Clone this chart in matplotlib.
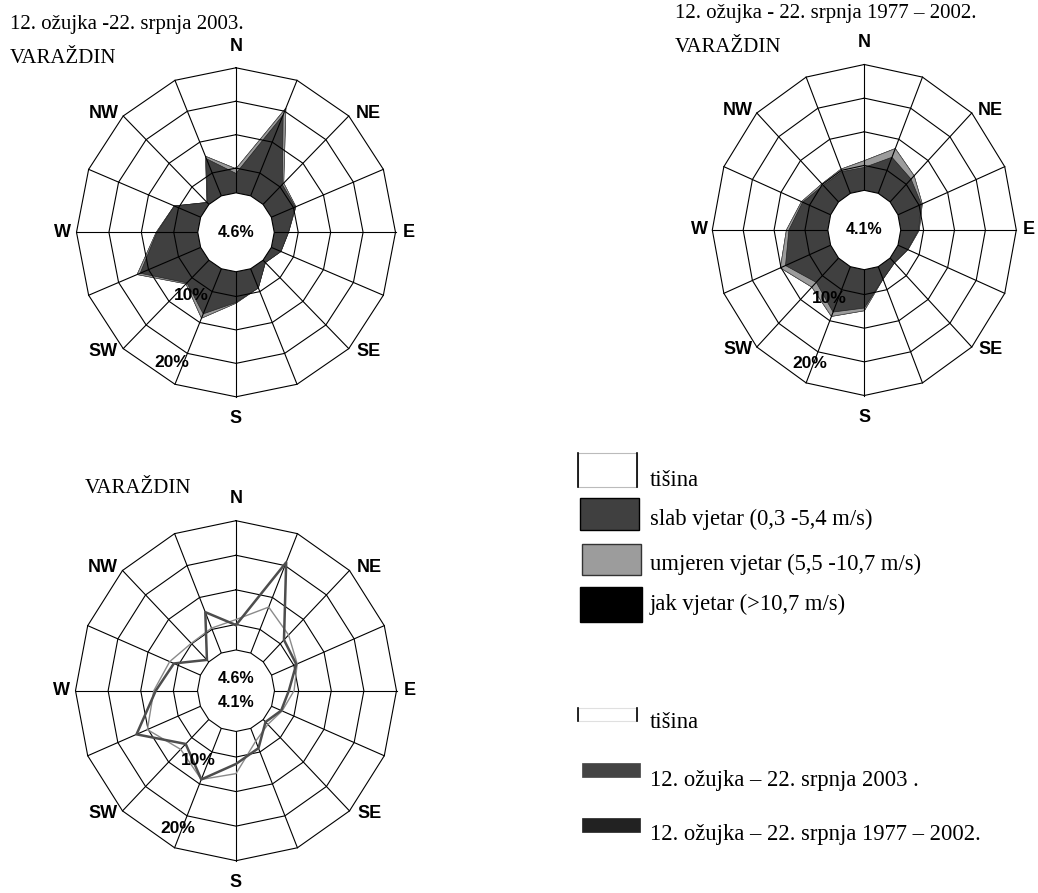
import numpy as np
import matplotlib
matplotlib.use('Agg')
import matplotlib.pyplot as plt
from matplotlib.patches import Rectangle

plt.rcParams['font.family'] = ['Liberation Sans', 'DejaVu Sans']

# smjerovi vjetra (16), oznake samo za glavne
smjerovi = ['N', 'NNE', 'NE', 'ENE', 'E', 'ESE', 'SE', 'SSE',
            'S', 'SSW', 'SW', 'WSW', 'W', 'WNW', 'NW', 'NNW']
oznake = ['N', 'NE', 'E', 'SE', 'S', 'SW', 'W', 'NW']

# 12. ožujka - 22. srpnja 2003. (%)
slab_2003 = [4.2, 14.4, 5.5, 5.3, 3.5, 2.9, 1.8, 4.4, 5.9, 8.6, 6.1, 11.4, 7.6, 5.7, 1.7, 7.3]
umjeren_2003 = [0.7, 1.1, 0.3, 0.1, 0.0, 0.0, 0.0, 0.0, 0.1, 0.7, 0.2, 0.5, 0.1, 0.0, 0.0, 0.4]
jak_2003 = [0.0] * 16
tisina_2003 = 4.6

# 12. ožujka - 22. srpnja 1977 - 2002. (%)
slab_7702 = [4.7, 7.1, 6.1, 5.4, 4.2, 3.0, 2.3, 3.3, 7.0, 8.6, 6.4, 9.2, 7.6, 6.2, 4.8, 4.8]
umjeren_7702 = [1.0, 1.4, 0.7, 0.15, 0.1, 0.05, 0.0, 0.0, 0.4, 0.7, 1.0, 0.9, 0.4, 0.2, 0.3, 0.4]
jak_7702 = [0.0] * 16
tisina_7702 = 4.1

prstenovi = [5, 10, 15, 20]

W, H = 1038, 893
R_MIN = -4.6   # pomak ishodista (krug tisine u sredini)
R_RUPA = 1.3

fig = plt.figure(figsize=(W / 100, H / 100), dpi=100)

# pozadinska os u pikselima za tekst i legendu
bg = fig.add_axes([0, 0, 1, 1])
bg.set_xlim(0, W)
bg.set_ylim(H, 0)
bg.axis('off')

theta = np.radians(np.arange(16) * 22.5)
theta_z = np.append(theta, theta[0])


def zatvori(v):
    v = np.asarray(v, dtype=float)
    return np.append(v, v[0])


def ruza(cx, cy, rx, ry, kut10, kut20):
    ax = fig.add_axes([(cx - rx) / W, (H - cy - ry) / H, 2 * rx / W, 2 * ry / H],
                      projection='polar')
    ax.set_theta_zero_location('N')
    ax.set_theta_direction(-1)
    ax.set_ylim(0, 20)
    ax.set_rorigin(R_MIN)
    ax.set_aspect('auto')
    ax.axis('off')

    # mreza: 16-kutni prstenovi i zrake
    for p in prstenovi:
        ax.plot(theta_z, [p] * 17, color='black', lw=0.8, zorder=2, clip_on=False)
    for t in theta:
        ax.plot([t, t], [R_RUPA, 20], color='black', lw=0.8, zorder=2, clip_on=False)
    ax.fill(theta_z, [R_RUPA] * 17, facecolor='white', edgecolor='black', lw=0.8,
            zorder=3, clip_on=False)

    for i, lab in enumerate(oznake):
        kut = i * 45
        if lab in ('N', 'S'):
            r = 23.2
        elif lab in ('E', 'W'):
            r = 22.1
        else:
            # dijagonale malo prema E/W strani
            r = 22.5
            kut += 4 if lab in ('NE', 'SW') else -4
        ax.text(np.radians(kut), r, lab, ha='center', va='center',
                fontsize=13, fontweight='bold', zorder=5)
    ax.text(np.radians(kut10), 7.1, '10%', ha='center', va='center',
            fontsize=12.5, fontweight='bold', zorder=5)
    ax.text(np.radians(kut20), 17.2, '20%', ha='center', va='center',
            fontsize=12.5, fontweight='bold', zorder=5)
    return ax


def popuni(ax, slab, umjeren, jak):
    s = np.asarray(slab)
    u = s + np.asarray(umjeren)
    j = u + np.asarray(jak)
    ax.fill(theta_z, zatvori(j), facecolor='black', edgecolor='black', lw=0.5,
            zorder=1, clip_on=False)
    ax.fill(theta_z, zatvori(u), facecolor='#9c9c9c', edgecolor='#555555', lw=0.5,
            zorder=1, clip_on=False)
    ax.fill(theta_z, zatvori(s), facecolor='#404040', edgecolor='#222222', lw=0.5,
            zorder=1, clip_on=False)


# 1) 2003.
ax1 = ruza(236, 232.3, 159.5, 164.5, 216, 207)
popuni(ax1, slab_2003, umjeren_2003, jak_2003)
ax1.text(0.5, 0.5, f'{tisina_2003}%', transform=ax1.transAxes, ha='center', va='center',
         fontsize=11.5, fontweight='bold', zorder=5)

# 2) 1977 - 2002.
ax2 = ruza(864.3, 230, 152, 165.5, 209, 204)
popuni(ax2, slab_7702, umjeren_7702, jak_7702)
ax2.text(0.5, 0.5, f'{tisina_7702}%', transform=ax2.transAxes, ha='center', va='center',
         fontsize=11.5, fontweight='bold', zorder=5)

# 3) usporedba
ax3 = ruza(236, 690.7, 160.5, 170, 210, 204)
uk_2003 = np.asarray(slab_2003) + np.asarray(umjeren_2003) + np.asarray(jak_2003)
uk_7702 = np.asarray(slab_7702) + np.asarray(umjeren_7702) + np.asarray(jak_7702)
ax3.plot(theta_z, zatvori(uk_7702), color='#8a8a8a', lw=1.0, zorder=2.5, clip_on=False)
ax3.plot(theta_z, zatvori(uk_2003), color='#4d4d4d', lw=1.8, zorder=2.6, clip_on=False)
ax3.text(0.5, 0.535, f'{tisina_2003}%', transform=ax3.transAxes, ha='center', va='center',
         fontsize=11.5, fontweight='bold', zorder=5)
ax3.text(0.5, 0.464, f'{tisina_7702}%', transform=ax3.transAxes, ha='center', va='center',
         fontsize=11.5, fontweight='bold', zorder=5)

serif = ['Liberation Serif', 'DejaVu Serif']
bg.text(10, 29.3, '12. ožujka -22. srpnja 2003.', family=serif, fontsize=15, va='baseline')
bg.text(10, 62.7, 'VARAŽDIN', family=serif, fontsize=15, va='baseline')
bg.text(675, 18.3, '12. ožujka - 22. srpnja 1977 – 2002.', family=serif, fontsize=15, va='baseline')
bg.text(675, 51.7, 'VARAŽDIN', family=serif, fontsize=15, va='baseline')
bg.text(85, 492.7, 'VARAŽDIN', family=serif, fontsize=15, va='baseline')

# legenda - plohe
bg.add_patch(Rectangle((578, 453), 59, 34, facecolor='white', edgecolor='#bbbbbb', lw=0.8))
bg.plot([578, 578], [453, 487], color='black', lw=1.2)
bg.plot([637, 637], [453, 487], color='black', lw=1.2)
bg.add_patch(Rectangle((580, 498), 59, 32, facecolor='#404040', edgecolor='black', lw=1.0))
bg.add_patch(Rectangle((582, 544), 59, 31, facecolor='#9c9c9c', edgecolor='#333333', lw=1.0))
bg.add_patch(Rectangle((580, 587), 62, 35, facecolor='black', edgecolor='black', lw=1.0))
bg.text(650, 486, 'tišina', family=serif, fontsize=16.3, va='baseline')
bg.text(650, 525, 'slab vjetar (0,3 -5,4 m/s)', family=serif, fontsize=16.3, va='baseline')
bg.text(650, 570, 'umjeren vjetar (5,5 -10,7 m/s)', family=serif, fontsize=16.3, va='baseline')
bg.text(650, 610, 'jak vjetar (>10,7 m/s)', family=serif, fontsize=16.3, va='baseline')

# legenda - linije
bg.add_patch(Rectangle((578, 708), 59, 13, facecolor='white', edgecolor='#e0e0e0', lw=0.8))
bg.plot([578, 578], [708, 721], color='black', lw=1.2)
bg.plot([637, 637], [708, 721], color='black', lw=1.2)
bg.add_patch(Rectangle((582, 763), 58, 14, facecolor='#444444', edgecolor='#444444', lw=0.5))
bg.add_patch(Rectangle((582, 818), 58, 14, facecolor='#222222', edgecolor='#222222', lw=0.5))
bg.text(650, 728, 'tišina', family=serif, fontsize=16.3, va='baseline')
bg.text(650, 786, '12. ožujka – 22. srpnja 2003 .', family=serif, fontsize=16.3, va='baseline')
bg.text(650, 840, '12. ožujka – 22. srpnja 1977 – 2002.', family=serif, fontsize=16.3, va='baseline')

fig.savefig('out.png', dpi=100)
